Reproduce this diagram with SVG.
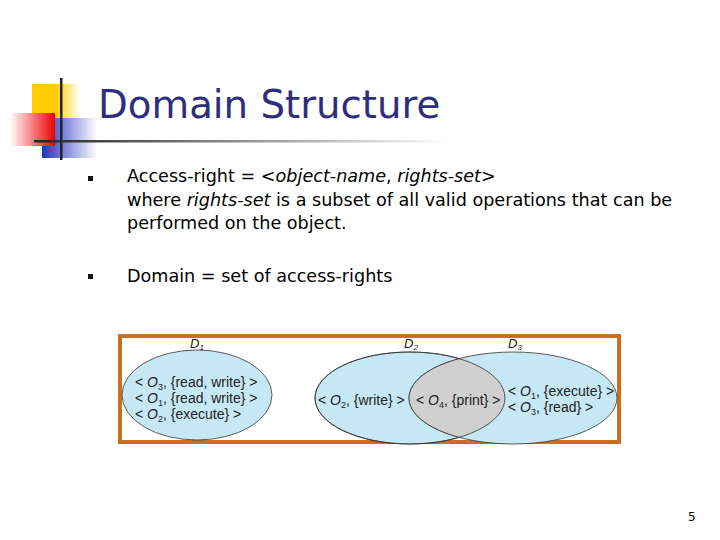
<svg xmlns="http://www.w3.org/2000/svg" width="720" height="540" viewBox="0 0 720 540">
<style>
.b{font-family:"DejaVu Sans","Verdana",sans-serif;font-size:17.6px;fill:#000}
.d{font-family:"Liberation Sans",Arial,sans-serif;font-size:14px;fill:#222}
.l{font-family:"Liberation Sans",Arial,sans-serif;font-size:13px;font-style:italic;fill:#222}
.e{fill:#c6e8f5;stroke:#333;stroke-width:0.8}
</style>
<defs>
<linearGradient id="ln" x1="0" x2="1"><stop offset="0" stop-color="#222"/><stop offset="1" stop-color="#fff"/></linearGradient>
<linearGradient id="rd" x1="0" x2="1"><stop offset="0" stop-color="#fff"/><stop offset="1" stop-color="#e00"/></linearGradient>
<linearGradient id="bl" x1="0" x2="1"><stop offset="0" stop-color="#2233bb"/><stop offset="1" stop-color="#fff"/></linearGradient>
<linearGradient id="yl" x1="0" x2="1"><stop offset="0.5" stop-color="#ffcc00"/><stop offset="1" stop-color="#fff"/></linearGradient>
<clipPath id="c2"><ellipse cx="410" cy="398" rx="95" ry="46"/></clipPath>
</defs>
<g id="logo">
<rect x="32" y="84" width="48" height="40" fill="url(#yl)"/>
<rect x="42" y="118" width="55" height="40" fill="url(#bl)"/>
<rect x="10" y="113" width="45" height="33" fill="url(#rd)"/>
<rect x="60" y="78" width="2.5" height="82" fill="#222"/>
<rect x="34" y="140" width="416" height="2.5" fill="url(#ln)"/>
</g>
<text x="98" y="118" font-family="Tahoma,'DejaVu Sans',sans-serif" font-size="38.7" fill="#2e2e80">Domain Structure</text>
<g id="bullets">
<rect x="88" y="176" width="5" height="5" fill="#111"/>
<rect x="88" y="274" width="5" height="5" fill="#111"/>
<text class="b" x="127" y="182">Access-right = &lt;<tspan font-style="italic">object-name</tspan>, <tspan font-style="italic">rights-set</tspan>&gt;</text>
<text class="b" x="127" y="206">where <tspan font-style="italic">rights-set</tspan> is a subset of all valid operations that can be</text>
<text class="b" x="127" y="229">performed on the object.</text>
<text class="b" x="127" y="282">Domain = set of access-rights</text>
</g>
<rect x="120" y="336" width="499" height="106" fill="#fff" stroke="#c87020" stroke-width="4"/>
<g id="D1">
<ellipse class="e" cx="197" cy="395" rx="75" ry="45"/>
<text class="l" x="190" y="348">D<tspan font-size="8" dy="2">1</tspan></text>
<text class="d" x="135" y="387">&lt; <tspan font-style="italic">O</tspan><tspan font-size="9" dy="3">3</tspan><tspan dy="-3">, {read, write} &gt;</tspan></text>
<text class="d" x="135" y="403">&lt; <tspan font-style="italic">O</tspan><tspan font-size="9" dy="3">1</tspan><tspan dy="-3">, {read, write} &gt;</tspan></text>
<text class="d" x="135" y="419">&lt; <tspan font-style="italic">O</tspan><tspan font-size="9" dy="3">2</tspan><tspan dy="-3">, {execute} &gt;</tspan></text>
</g>
<g id="D2">
<ellipse class="e" cx="410" cy="398" rx="95" ry="46"/>
<text class="l" x="404" y="348">D<tspan font-size="8" dy="2">2</tspan></text>
<text class="d" x="318" y="405">&lt; <tspan font-style="italic">O</tspan><tspan font-size="9" dy="3">2</tspan><tspan dy="-3">, {write} &gt;</tspan></text>
</g>
<g id="D3">
<ellipse class="e" cx="513" cy="398" rx="104" ry="46"/>
<ellipse cx="513" cy="398" rx="104" ry="46" fill="#cfcfcf" stroke="#333" stroke-width="0.8" clip-path="url(#c2)"/>
<ellipse cx="410" cy="398" rx="95" ry="46" fill="none" stroke="#333" stroke-width="0.8"/>
<text class="l" x="508" y="348">D<tspan font-size="8" dy="2">3</tspan></text>
<text class="d" x="416" y="405">&lt; <tspan font-style="italic">O</tspan><tspan font-size="9" dy="3">4</tspan><tspan dy="-3">, {print} &gt;</tspan></text>
<text class="d" x="508" y="396">&lt; <tspan font-style="italic">O</tspan><tspan font-size="9" dy="3">1</tspan><tspan dy="-3">, {execute} &gt;</tspan></text>
<text class="d" x="508" y="412">&lt; <tspan font-style="italic">O</tspan><tspan font-size="9" dy="3">3</tspan><tspan dy="-3">, {read} &gt;</tspan></text>
</g>
<text x="688" y="521" font-family="'DejaVu Sans',sans-serif" font-size="12">5</text>
</svg>
